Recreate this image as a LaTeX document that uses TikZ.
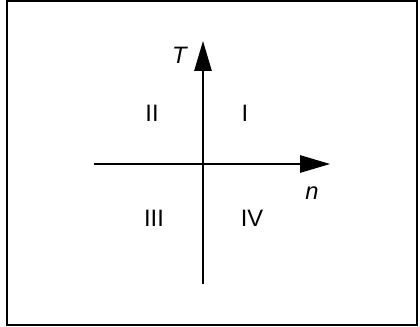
\documentclass[tikz,border=0pt]{standalone}
\usepackage{fontspec}
\setmainfont{Liberation Sans}
\usepackage{tikz}
\usetikzlibrary{arrows.meta,positioning}

\begin{document}
\begin{tikzpicture}[x=0.02cm,y=0.02cm,
    axis/.style={line width=0.65pt,-{Triangle[length=0.6cm,width=0.35cm]}},
    quadlabel/.style={font=\fontsize{13.5}{16}\selectfont}]
    \useasboundingbox (-203,-162) rectangle (217,164);
    \draw[line width=0.65pt] (-196,-161) rectangle (214,163);
    \coordinate (nstart) at (-109,0);
    \coordinate (nend) at (127,0);
    \coordinate (tstart) at (0,-120);
    \coordinate (tend) at (0,123);
    \draw[axis] (nstart) -- (nend);
    \draw[axis] (tstart) -- (tend);
    \node[quadlabel] (tlabel) at (-23,109) {\textit{T}};
    \node[quadlabel] (nlabel) at (109,-29) {\textit{n}};
    \node[quadlabel] (q1) at (42,51) {I};
    \node[quadlabel] (q2) at (-51,51) {II};
    \node[quadlabel] (q3) at (-49,-54) {III};
    \node[quadlabel] (q4) at (49,-54) {IV};
\end{tikzpicture}
\end{document}
